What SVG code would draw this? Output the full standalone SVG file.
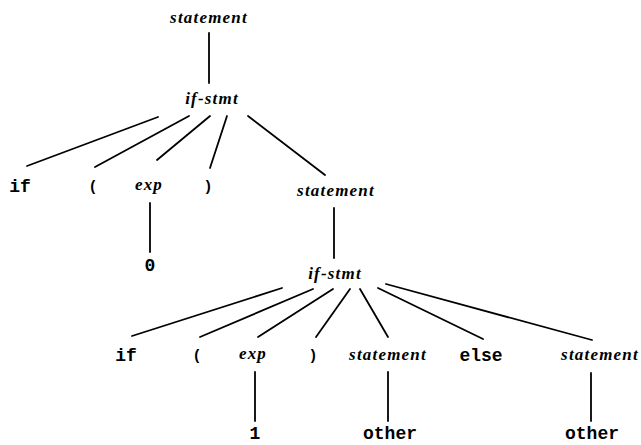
<svg xmlns="http://www.w3.org/2000/svg" width="641" height="445" viewBox="0 0 641 445">
<style>
.nt{font-family:"Liberation Serif","DejaVu Serif",serif;font-style:italic;font-weight:bold;font-size:17px;letter-spacing:1.2px;fill:#000;text-anchor:middle}
.t{font-family:"Liberation Mono","DejaVu Sans Mono",monospace;font-weight:bold;font-size:18px;fill:#000;text-anchor:middle}
.p{font-family:"Liberation Mono","DejaVu Sans Mono",monospace;font-weight:bold;font-size:15px;fill:#000;text-anchor:middle}
.e line{stroke:#000;stroke-width:1.8;stroke-linecap:round}
</style>
<rect width="641" height="445" fill="#fff"/>
<g id="connectors" class="e">
<line x1="209" y1="33" x2="209" y2="83"/>
<line x1="158" y1="117" x2="27" y2="166"/>
<line x1="189" y1="116" x2="95" y2="167"/>
<line x1="210" y1="116" x2="157" y2="160"/>
<line x1="227" y1="116" x2="210" y2="168"/>
<line x1="248" y1="116" x2="325" y2="175"/>
<line x1="150" y1="203" x2="150" y2="252"/>
<line x1="334" y1="208" x2="334" y2="258"/>
<line x1="282" y1="288" x2="132" y2="336"/>
<line x1="313" y1="289" x2="200" y2="337"/>
<line x1="333" y1="289" x2="258" y2="337"/>
<line x1="350" y1="289" x2="316" y2="337"/>
<line x1="360" y1="289" x2="388" y2="337"/>
<line x1="378" y1="288" x2="483" y2="339"/>
<line x1="386" y1="284" x2="592" y2="340"/>
<line x1="255" y1="372" x2="255" y2="421"/>
<line x1="388" y1="372" x2="388" y2="421"/>
<line x1="591" y1="373" x2="591" y2="421"/>
</g>
<g id="n-statement-1"><text class="nt" x="209" y="23">statement</text></g>
<g id="n-ifstmt-1"><text class="nt" x="212" y="104">if-stmt</text></g>
<g id="n-if-1"><text class="t" x="20" y="192">if</text></g>
<g id="n-lp-1"><text class="p" x="93" y="191">(</text></g>
<g id="n-exp-1"><text class="nt" x="149" y="190">exp</text></g>
<g id="n-rp-1"><text class="p" x="208" y="191">)</text></g>
<g id="n-statement-2"><text class="nt" x="336" y="196">statement</text></g>
<g id="n-zero"><text class="t" x="150" y="271">0</text></g>
<g id="n-ifstmt-2"><text class="nt" x="335" y="279">if-stmt</text></g>
<g id="n-if-2"><text class="t" x="126" y="361">if</text></g>
<g id="n-lp-2"><text class="p" x="197" y="360">(</text></g>
<g id="n-exp-2"><text class="nt" x="253" y="359">exp</text></g>
<g id="n-rp-2"><text class="p" x="313" y="360">)</text></g>
<g id="n-statement-3"><text class="nt" x="388" y="360">statement</text></g>
<g id="n-else"><text class="t" x="481" y="361">else</text></g>
<g id="n-statement-4"><text class="nt" x="600" y="360">statement</text></g>
<g id="n-one"><text class="t" x="255" y="439">1</text></g>
<g id="n-other-1"><text class="t" x="390" y="439">other</text></g>
<g id="n-other-2"><text class="t" x="592" y="439">other</text></g>
</svg>
